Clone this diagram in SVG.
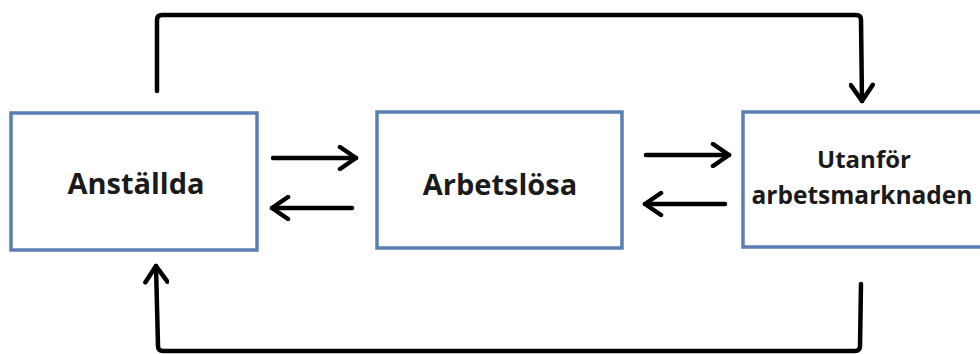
<svg xmlns="http://www.w3.org/2000/svg" width="980" height="354" viewBox="0 0 980 354">
<style>
.box{fill:#fff;stroke:#5a7fb5;stroke-width:3.5}
.lbl{font-family:"Open Sans","Liberation Sans",sans-serif;font-weight:bold;fill:#1a1a1a;text-anchor:middle}
.con{fill:none;stroke:#000;stroke-width:4.5;stroke-linecap:round;stroke-linejoin:round}
</style>
<defs>
<marker id="ah" viewBox="0 0 22 26" refX="19" refY="13" markerWidth="22" markerHeight="26" markerUnits="userSpaceOnUse" orient="auto">
<path d="M3,2 L19,13 L3,24" fill="none" stroke="#000" stroke-width="4.5" stroke-linecap="round" stroke-linejoin="round"/>
</marker>
</defs>
<rect width="980" height="354" fill="#fff"/>
<g id="anstallda">
<rect class="box" x="11" y="113" width="246" height="137"/>
<text class="lbl" x="136" y="194" font-size="29">Anställda</text>
</g>
<g id="arbetslosa">
<rect class="box" x="377" y="112" width="245" height="136"/>
<text class="lbl" x="500" y="195" font-size="29">Arbetslösa</text>
</g>
<g id="utanfor">
<rect class="box" x="743" y="112" width="250" height="135"/>
<text class="lbl" x="864" y="168" font-size="24">Utanför</text>
<text class="lbl" x="862" y="204" font-size="24.5">arbetsmarknaden</text>
</g>
<g id="connectors">
<path class="con" d="M273,158 L356,158" marker-end="url(#ah)"/>
<path class="con" d="M352,208 L272,208" marker-end="url(#ah)"/>
<path class="con" d="M646,155 L729,155" marker-end="url(#ah)"/>
<path class="con" d="M725,204 L645,204" marker-end="url(#ah)"/>
<path class="con" d="M157,91 L157,20 Q157,15 162,15 L856,15 Q861,15 861,20 L862,101" marker-end="url(#ah)"/>
<path class="con" d="M861,284 L860,346 Q860,351 855,351 L163,351 Q158,351 158,346 L156,266" marker-end="url(#ah)"/>
</g>
</svg>
